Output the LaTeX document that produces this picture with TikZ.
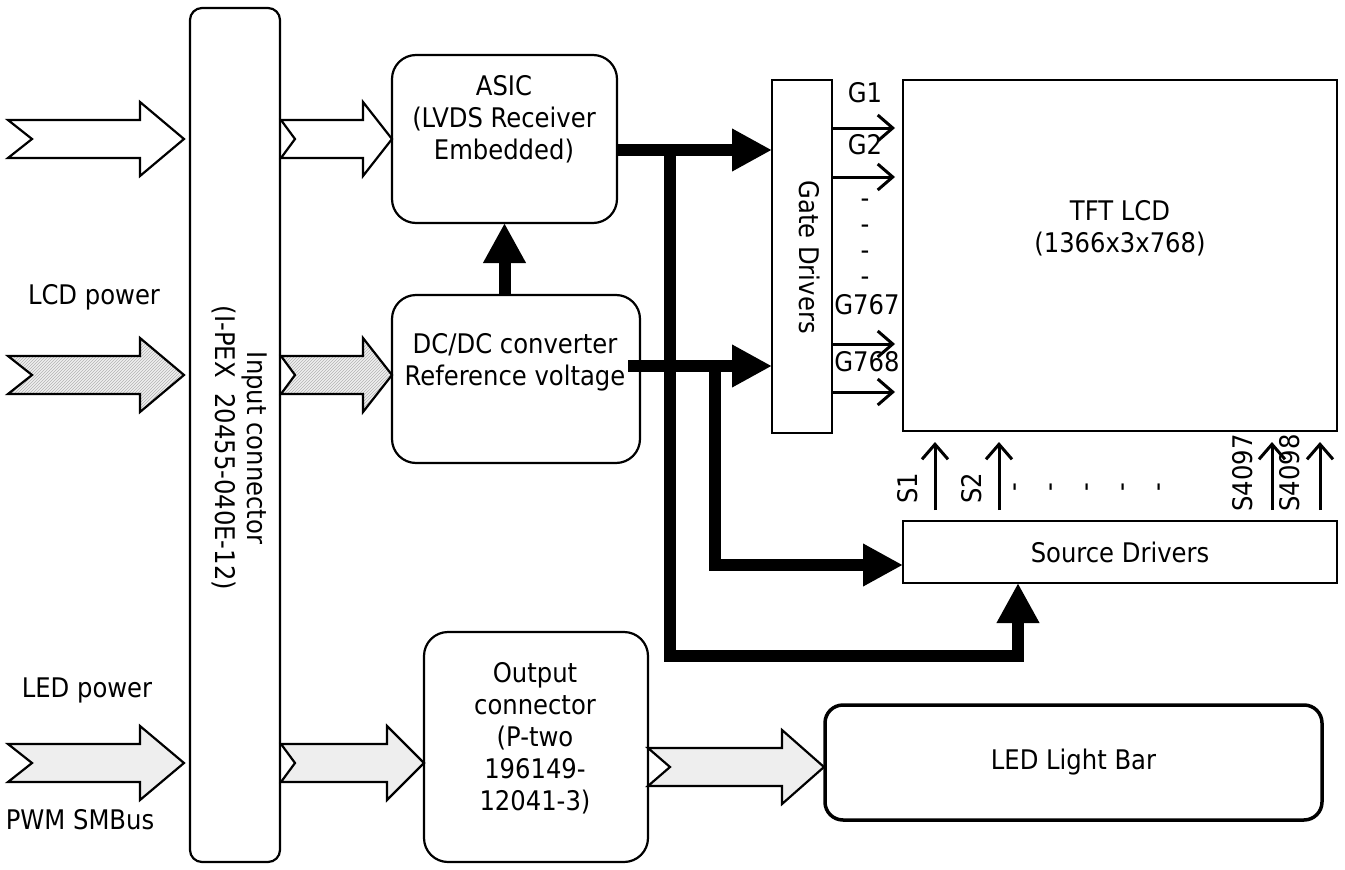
\documentclass[tikz,border=0pt]{standalone}
\usepackage{fontspec}
\setmainfont{DejaVu Sans Condensed}
\usetikzlibrary{arrows.meta,patterns}

% hollow block arrow: style, tail x, tip x, mid y, notch, head length
\newcommand{\fatarrow}[6]{%
  \draw[#1] (#2,#4-19) -- (#3-#6,#4-19) -- (#3-#6,#4-37) -- (#3,#4)
    -- (#3-#6,#4+37) -- (#3-#6,#4+19) -- (#2,#4+19) -- (#2+#5,#4) -- cycle;}

\begin{document}
\begin{tikzpicture}[
    x=1pt, y=-1pt,
    every node/.style={font=\fontsize{27}{32}\selectfont},
    box/.style={draw, line width=2.2pt, inner sep=0pt, outer sep=0pt},
    rbox/.style={box, rounded corners=24pt},
    txt/.style={align=center, inner sep=0pt},
    fat/.style={line width=12pt, -{Triangle[length=40pt,width=40pt]}},
    sig/.style={line width=3pt, -{Straight Barb[length=15pt,width=26pt]}},
    plain/.style={line width=2.2pt, fill=white},
    hatch/.style={line width=2.2pt, preaction={fill=gray!12}, pattern=north east lines, pattern color=gray!60},
    grain/.style={line width=2.2pt, fill=gray!13}
]
\useasboundingbox (0,0) rectangle (1345,870);

% blocks
\node[box, rounded corners=12pt, minimum width=90pt, minimum height=854pt] (inconn) at (235,435) {};
\node[rbox, minimum width=225pt, minimum height=168pt] (asic) at (504.5,139) {};
\node[rbox, minimum width=248pt, minimum height=168pt] (dcdc) at (516,379) {};
\node[rbox, minimum width=224pt, minimum height=230pt] (outconn) at (536,747) {};
\node[box, minimum width=60pt, minimum height=353pt] (gate) at (802,256.5) {};
\node[box, minimum width=434pt, minimum height=351pt] (tft) at (1120,255.5) {};
\node[box, minimum width=434pt, minimum height=62pt] (src) at (1120,552) {Source Drivers};
\node[box, line width=3.5pt, rounded corners=18pt, minimum width=497pt, minimum height=115pt] (led) at (1073.5,762.5) {LED Light Bar};

% block texts
\node[txt, rotate=-90] (inconn-t) at (240,448) {Input connector\\(I-PEX\ \ 20455-040E-12)};
\node[txt] (asic-t) at (504,119) {ASIC\\(LVDS Receiver\\Embedded)};
\node[txt] (dcdc-t) at (515,362) {DC/DC converter\\Reference voltage};
\node[txt] (outconn-t) at (535,738) {Output\\connector\\(P-two\\196149-\\12041-3)};
\node[txt, rotate=-90] (gate-t) at (810,257) {Gate Drivers};
\node[txt] (tft-t) at (1120,228) {TFT LCD\\(1366x3x768)};

% side labels
\node (lcdpow) at (94,297) {LCD power};
\node (ledpow) at (87,690) {LED power};
\node (pwm) at (80,820) {PWM SMBus};

% block arrows
\fatarrow{plain}{8}{184}{139}{24}{44}
\fatarrow{plain}{281}{392}{139}{14}{29}
\fatarrow{hatch}{8}{184}{375}{24}{44}
\fatarrow{hatch}{281}{392}{375}{14}{29}
\fatarrow{grain}{8}{184}{763}{24}{44}
\fatarrow{grain}{281}{424}{763}{14}{37}
\fatarrow{grain}{648}{824}{767}{22}{42}

% thick buses
\coordinate (j1) at (670,150);
\coordinate (j2) at (715,366);
\coordinate (j3) at (1018,656);
\coordinate (j4) at (715,565);
\draw[fat] (asic.east |- j1) -- (gate.west |- j1);
\draw[fat] (j1) -- (670,656) -- (j3) -- (src.south -| j3);
\draw[fat] ([xshift=-12pt]dcdc.east |- j2) -- (gate.west |- j2);
\draw[fat] (j2) -- (j4) -- (src.west |- j4);
\draw[fat] (asic.south |- dcdc.north) -- (asic.south);

% gate lines
\foreach \y in {128,177,344,392} {
  \coordinate (gy) at (0,\y);
  \draw[sig, shorten >=8pt] (gate.east |- gy) -- (tft.west |- gy);
}
\node (g1) at (865,93) {G1};
\node (g2) at (865,145) {G2};
\foreach \y in {203,229,255,281}
  \node at (865,\y) {-};
\node (g767) at (867,305) {G767};
\node (g768) at (867,362) {G768};

% source lines
\foreach \x in {935,999,1272,1320} {
  \coordinate (sx) at (\x,0);
  \draw[sig, shorten <=11pt, shorten >=11pt] (src.north -| sx) -- (tft.south -| sx);
}
\node[rotate=90] (s1) at (908,488) {S1};
\node[rotate=90] (s2) at (972,488) {S2};
\node[rotate=90] (s4097) at (1243,473) {S4097};
\node[rotate=90] (s4098) at (1290,473) {S4098};
\foreach \x in {1018,1054,1090,1126,1162}
  \node[rotate=90] at (\x,487) {-};
\end{tikzpicture}
\end{document}
